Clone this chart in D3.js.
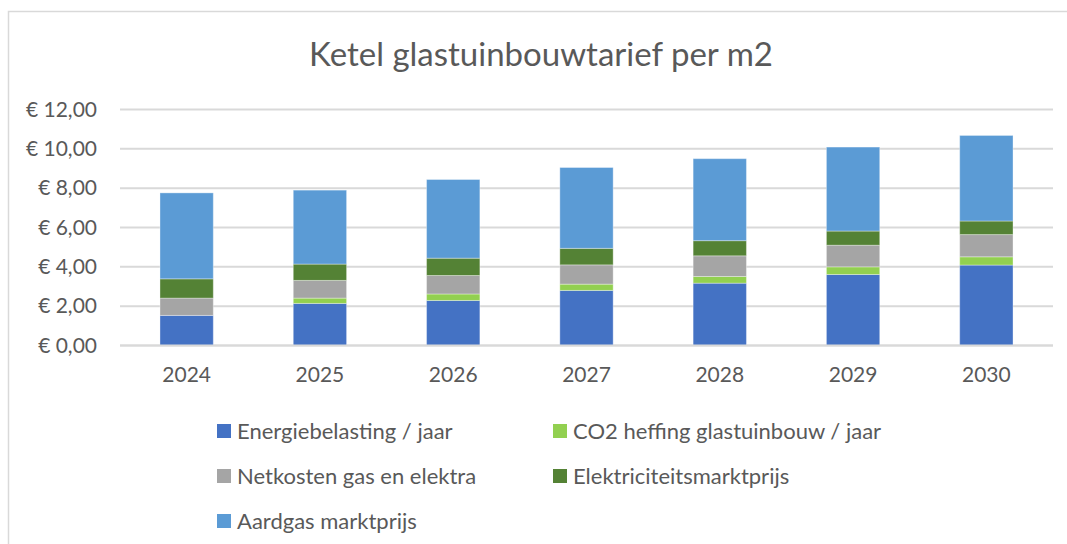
<!DOCTYPE html>
<html>
<head>
<meta charset="utf-8">
<title>Ketel glastuinbouwtarief per m2</title>
<style type="text/css">
    body { margin: 0; background: #fff; }
    text { font-family: Lato, "Open Sans", sans-serif; fill: #595959; }
</style>
</head>
<body>
<script src="https://d3js.org/d3.v7.min.js"></script>
<script>

    // data
    var years = ["2024", "2025", "2026", "2027", "2028", "2029", "2030"];
    var energiebelasting = [1.53, 2.14, 2.29, 2.80, 3.17, 3.61, 4.09];
    var co2Heffing       = [0.00, 0.27, 0.33, 0.32, 0.34, 0.39, 0.42];
    var netkosten        = [0.88, 0.90, 0.94, 0.98, 1.05, 1.10, 1.13];
    var elektriciteit    = [0.98, 0.83, 0.88, 0.84, 0.77, 0.72, 0.69];
    var aardgas          = [4.37, 3.76, 4.00, 4.11, 4.17, 4.27, 4.35];

    var seriesNames = ["Energiebelasting / jaar", "CO2 heffing glastuinbouw / jaar",
        "Netkosten gas en elektra", "Elektriciteitsmarktprijs", "Aardgas marktprijs"];
    var seriesValues = [energiebelasting, co2Heffing, netkosten, elektriciteit, aardgas];
    var yTicks = [0, 2, 4, 6, 8, 10, 12];

    var color = d3.scaleOrdinal()
        .domain(seriesNames)
        .range(["#4472c4", "#92d050", "#a5a5a5", "#548235", "#5b9bd5"]);

    var width = 1067, height = 544;

    var svg = d3.select("body").append("svg")
        .attr("width", width)
        .attr("height", height);

    // chart area border (runs off the right/bottom edge like the screenshot)
    svg.append("rect")
        .attr("x", 8.5).attr("y", 11.5)
        .attr("width", 1070).attr("height", 560)
        .attr("fill", "#fff")
        .attr("stroke", "#d9d9d9")
        .attr("stroke-width", 1.5);

    svg.append("text")
        .attr("x", 541)
        .attr("y", 66)
        .attr("text-anchor", "middle")
        .style("font-size", "33px")
        .text("Ketel glastuinbouwtarief per m2");

    var x = d3.scaleBand()
        .domain(years)
        .range([120, 1053])
        .paddingInner(0.6)
        .paddingOuter(0.3);

    var y = d3.scaleLinear()
        .domain([0, 12])
        .range([345.5, 109.5]);

    // grid lines
    svg.append("g")
        .selectAll("line")
        .data(yTicks)
        .enter().append("line")
        .attr("x1", 120).attr("x2", 1053)
        .attr("y1", function(d) { return y(d); })
        .attr("y2", function(d) { return y(d); })
        .attr("stroke", "#d9d9d9")
        .attr("stroke-width", 2);

    // y axis labels
    var fmt = function(d) { return "€ " + d3.format(".2f")(d).replace(".", ","); };
    svg.append("g")
        .attr("transform", "translate(97,0)")
        .call(d3.axisLeft(y).tickValues(yTicks).tickFormat(fmt).tickSize(0).tickPadding(0))
        .call(function(g) { g.select(".domain").remove(); })
        .call(function(g) {
            g.selectAll("text")
                .attr("fill", "#595959")
                .style("font-family", "Lato, sans-serif")
                .style("font-size", "21px");
        });

    // stacked data
    var table = years.map(function(yr, i) {
        var row = {year: yr};
        seriesNames.forEach(function(s, j) { row[s] = seriesValues[j][i]; });
        return row;
    });
    var stacked = d3.stack().keys(seriesNames)(table);

    svg.append("g")
        .selectAll("g")
        .data(stacked)
        .enter().append("g")
        .attr("fill", function(d) { return color(d.key); })
        .selectAll("rect")
        .data(function(d) { return d; })
        .enter().append("rect")
        .attr("x", function(d) { return x(d.data.year); })
        .attr("width", x.bandwidth())
        .attr("y", function(d) { return y(d[1]); })
        .attr("height", function(d) { return y(d[0]) - y(d[1]); })
        .attr("stroke", "#ffffff")
        .attr("stroke-opacity", 0.35)
        .attr("stroke-width", 1);

    // baseline
    svg.append("line")
        .attr("x1", 120).attr("x2", 1053)
        .attr("y1", y(0)).attr("y2", y(0))
        .attr("stroke", "#d9d9d9")
        .attr("stroke-width", 2);

    // x axis labels
    svg.append("g")
        .attr("transform", "translate(0," + y(0) + ")")
        .call(d3.axisBottom(x).tickSize(0).tickPadding(22))
        .call(function(g) { g.select(".domain").remove(); })
        .call(function(g) {
            g.selectAll("text")
                .attr("fill", "#595959")
                .style("font-family", "Lato, sans-serif")
                .style("font-size", "21px");
        });

    // legend
    var legendPos = [[217, 431], [553, 431], [217, 476], [553, 476], [217, 521]];
    var legend = svg.append("g")
        .selectAll("g")
        .data(seriesNames)
        .enter().append("g")
        .attr("transform", function(d, i) {
            return "translate(" + legendPos[i][0] + "," + legendPos[i][1] + ")";
        });

    legend.append("rect")
        .attr("x", 0).attr("y", -7)
        .attr("width", 14).attr("height", 14)
        .attr("fill", function(d) { return color(d); });

    legend.append("text")
        .attr("x", 20)
        .attr("y", 0)
        .attr("dy", "0.35em")
        .style("font-size", "22px")
        .text(function(d) { return d; });

</script>
</body>
</html>
